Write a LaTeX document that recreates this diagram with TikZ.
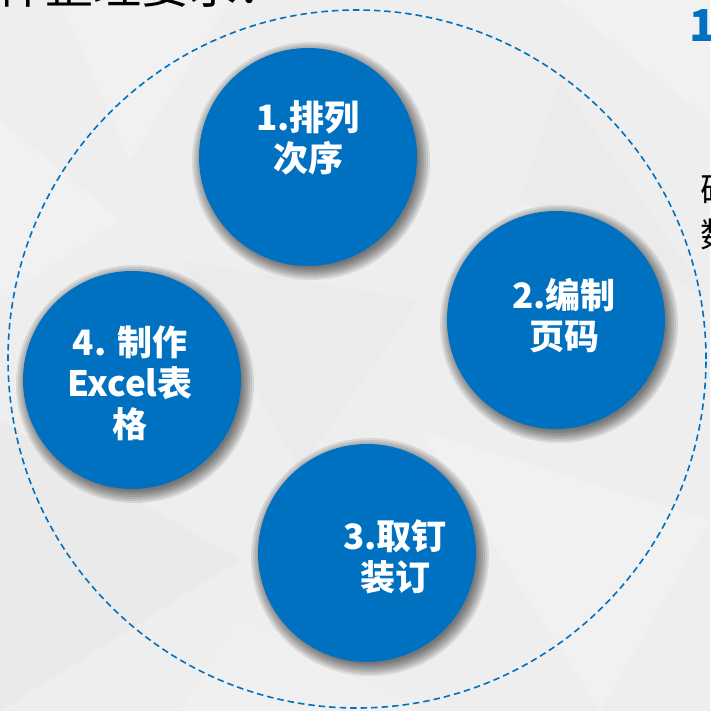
\documentclass[tikz,border=0pt]{standalone}
\usepackage{fontspec}
\newfontfamily\cjk{Noto Sans CJK SC}
\definecolor{myblue}{HTML}{0070C0}
\definecolor{bggray}{HTML}{EEEEEE}
\tikzset{
  ball/.style={circle, fill=myblue, minimum size=218pt, inner sep=0pt},
  balltext/.style={text=white, align=center, inner sep=0pt, font=\cjk\bfseries\fontsize{35}{41}\selectfont},
  ring/.style={draw=myblue, line width=1.6pt, dash pattern=on 6.5pt off 4pt},
  edgetext/.style={inner sep=0pt, anchor=base west}
}
\begin{document}
\begin{tikzpicture}[x=1pt,y=-1pt]
\useasboundingbox (0,0) rectangle (710,711);
\clip (0,0) rectangle (710,711);
% background
\fill[bggray] (0,0) rectangle (710,711);
\fill[white,opacity=.2] (60,0) -- (230,0) -- (130,160) -- cycle;
\fill[white,opacity=.2] (560,0) -- (710,0) -- (710,120) -- cycle;
\fill[black,opacity=.015] (0,420) -- (240,560) -- (0,711) -- cycle;
\fill[white,opacity=.2] (420,430) -- (710,520) -- (600,711) -- cycle;
\fill[black,opacity=.012] (180,260) -- (420,300) -- (300,470) -- cycle;
\fill[white,opacity=.15] (240,620) -- (420,711) -- (180,711) -- cycle;
\fill[black,opacity=.012] (560,80) -- (710,300) -- (520,200) -- cycle;
\fill[white,opacity=.2] (0,120) -- (120,220) -- (0,300) -- cycle;
% dashed ring
\node[circle, ring, minimum size=698pt, inner sep=0pt] (ring) at (357,359) {};
% shadows
\foreach \cx/\cy in {308/157, 556/320, 367/553, 132/380}{
  \foreach \k in {12,10,...,0}{
    \fill[black,opacity=.09] (\cx+3,\cy+4) circle[radius=107+\k];
  }
}
% balls
\node[ball] (b1) at (308,157) {};
\node[ball] (b2) at (556,320) {};
\node[ball] (b3) at (367,553) {};
\node[ball] (b4) at (132,380) {};
% texts
\node[balltext] (t1) at (308,138) {1.排列\\次序};
\node[balltext] (t2) at (564,316) {2.编制\\页码};
\node[balltext] (t3) at (395,557) {3.取钉\\装订};
\node[balltext] (t4) at (130,383) {4. 制作\\Excel表\\格};
% cut-off surrounding texts
\node[edgetext, font=\cjk\fontsize{48}{48}\selectfont] (title) at (-51,4) {文件整理要求：};
\node[edgetext, text=myblue, font=\cjk\bfseries\fontsize{44}{44}\selectfont] (num) at (689,42) {1};
\node[edgetext, font=\cjk\fontsize{34}{34}\selectfont] (r1) at (700,203) {确};
\node[edgetext, font=\cjk\fontsize{34}{34}\selectfont] (r2) at (700,247) {数};
\end{tikzpicture}
\end{document}
